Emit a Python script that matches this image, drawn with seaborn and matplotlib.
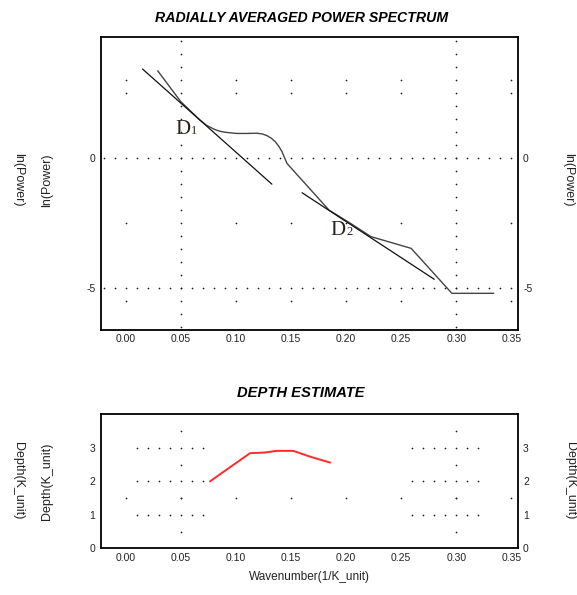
import numpy as np
import pandas as pd
import matplotlib
matplotlib.use("Agg")
import matplotlib.pyplot as plt
import seaborn as sns

# --- radially averaged power spectrum ---
spec_k = [0.029, 0.050, 0.056, 0.061, 0.067, 0.073, 0.078, 0.082, 0.087, 0.0915,
          0.1006, 0.110, 0.119, 0.124, 0.128, 0.132, 0.1357, 0.139, 0.1418,
          0.1463, 0.149, 0.1845, 0.204, 0.2226, 0.259, 0.296, 0.334]
spec_lnp = [3.37, 2.18, 1.94, 1.73, 1.49, 1.28, 1.17, 1.09, 1.03, 1.00,
            0.96, 0.96, 0.97, 0.94, 0.88, 0.78, 0.64, 0.46, 0.26,
            -0.19, -0.32, -1.99, -2.50, -3.01, -3.46, -5.19, -5.19]

# straight-line fits for the two depth segments
fit1_k = [0.0152, 0.1326]
fit1_lnp = [3.44, -0.99]
fit2_k = [0.160, 0.280]
fit2_lnp = [-1.32, -4.65]

# --- depth estimate ---
depth_k = [0.0764, 0.1127, 0.126, 0.137, 0.152, 0.167, 0.1855]
depth_val = [2.00, 2.84, 2.86, 2.91, 2.91, 2.74, 2.56]

xticks = [0.00, 0.05, 0.10, 0.15, 0.20, 0.25, 0.30, 0.35]
top_yticks = [0, -5]
bot_yticks = [0, 1, 2, 3]

sns.set_style("white")
plt.rcParams['font.family'] = ['Liberation Sans', 'DejaVu Sans']
plt.rcParams['axes.unicode_minus'] = False

fig = plt.figure(figsize=(5.77, 5.95), dpi=100)
ax1 = fig.add_axes([0.175, 0.4454, 0.722, 0.4924])
ax2 = fig.add_axes([0.175, 0.0782, 0.722, 0.2255])

XL = (-0.0225, 0.3556)
dot_kw = dict(s=1.5, color="#1a1a1a", linewidths=0, zorder=1)

# dotted reference marks, upper panel
for xv in (0.05, 0.30):
    ys = np.arange(-6.5, 4.6, 0.5)
    ax1.scatter(np.full_like(ys, xv), ys, **dot_kw)
for yv in (0, -5):
    xs = np.arange(-0.02, 0.355, 0.01)
    ax1.scatter(xs, np.full_like(xs, yv), **dot_kw)
for yv in (3.0, 2.5, -2.5, -5.5):
    xs = np.array([0.0, 0.10, 0.15, 0.20, 0.25, 0.35])
    ax1.scatter(xs, np.full_like(xs, yv), **dot_kw)

# dotted reference marks, lower panel
for yv in (1, 2, 3):
    xs = np.concatenate([np.arange(0.01, 0.075, 0.01), np.arange(0.26, 0.325, 0.01)])
    ax2.scatter(xs, np.full_like(xs, yv), **dot_kw)
for xv in (0.05, 0.30):
    ys = np.array([0.5, 1.5, 2.5, 3.5])
    ax2.scatter(np.full_like(ys, xv), ys, **dot_kw)
xs = np.array(xticks)
ax2.scatter(xs, np.full_like(xs, 1.5), **dot_kw)

spec_df = pd.DataFrame({"k": spec_k, "lnp": spec_lnp})
sns.lineplot(data=spec_df, x="k", y="lnp", ax=ax1, color="#444444", lw=1.0,
             sort=False, estimator=None, zorder=3)
sns.lineplot(x=fit1_k, y=fit1_lnp, ax=ax1, color="#111111", lw=0.9,
             estimator=None, zorder=3)
sns.lineplot(x=fit2_k, y=fit2_lnp, ax=ax1, color="#111111", lw=0.9,
             estimator=None, zorder=3)

depth_df = pd.DataFrame({"k": depth_k, "depth": depth_val})
sns.lineplot(data=depth_df, x="k", y="depth", ax=ax2, color="#ff2a2a", lw=1.4,
             sort=False, estimator=None, zorder=3)

# segment labels
for (lx, ly, num) in [(0.045, 0.92, "1"), (0.186, -2.93, "2")]:
    ax1.annotate("D", (lx, ly), fontsize=15, family="Liberation Serif",
                 color="#2a2218", va="baseline", ha="left", zorder=4)
    ax1.annotate(num, (lx, ly), xytext=(11, 0), textcoords="offset points",
                 fontsize=9, family="Liberation Serif", color="#2a2218",
                 va="baseline", ha="left", zorder=4)

tick_font = dict(fontsize=7.5, color="#222222")
for ax, yl, yt in [(ax1, (-6.6, 4.67), top_yticks), (ax2, (0, 4.0), bot_yticks)]:
    ax.set_xlim(*XL)
    ax.set_ylim(*yl)
    ax.set_xticks(xticks)
    ax.set_xticklabels([f"{v:.2f}" for v in xticks], **tick_font)
    ax.set_yticks(yt)
    ax.set_yticklabels([str(v) for v in yt], **tick_font)
    ax.tick_params(axis="both", length=0, pad=3)
    ax.tick_params(axis="y", labelleft=True, labelright=True, pad=4)
    ax.set_xlabel("")
    ax.set_ylabel("")
    for sp in ax.spines.values():
        sp.set_visible(True)
        sp.set_color("black")
        sp.set_linewidth(1.3)
    ax.grid(False)

title_font = dict(fontweight="bold", fontstyle="italic", color="black",
                  ha="center", va="center")
fig.text(0.522, 0.970, "RADIALLY AVERAGED POWER SPECTRUM", fontsize=10.2, **title_font)
fig.text(0.522, 0.339, "DEPTH ESTIMATE", fontsize=10.6, **title_font)
fig.text(0.537, 0.030, "Wavenumber(1/K_unit)", fontsize=8.5, color="#222222",
         ha="center", va="center")

side_font = dict(fontsize=9, color="#222222", ha="center", va="center")
top_cy = 1 - 180 / 595
bot_cy = 1 - 481 / 595
fig.text(18 / 577, top_cy, "ln(Power)", rotation=270, **side_font)
fig.text(47 / 577, top_cy, "ln(Power)", rotation=90, **side_font)
fig.text(568 / 577, top_cy, "ln(Power)", rotation=270, **side_font)
fig.text(18 / 577, bot_cy, "Depth(K_unit)", rotation=270, **side_font)
fig.text(47 / 577, bot_cy, "Depth(K_unit)", rotation=90, **side_font)
fig.text(570 / 577, bot_cy, "Depth(K_unit)", rotation=270, **side_font)

fig.savefig("out.png", dpi=100, facecolor="white")
